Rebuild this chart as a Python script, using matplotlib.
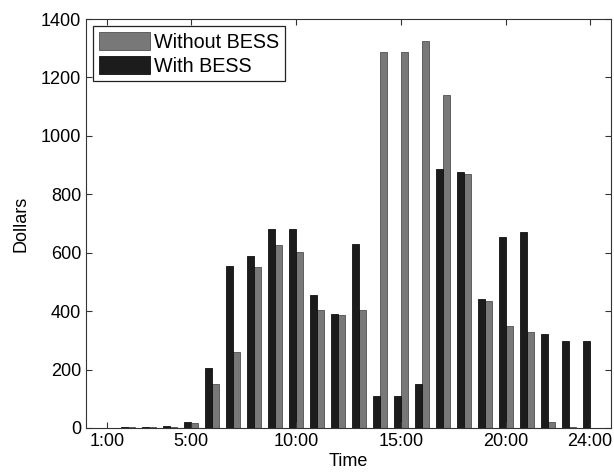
import matplotlib.pyplot as plt
import numpy as np

plt.rcParams['font.family'] = ['Liberation Sans', 'DejaVu Sans']

hours = np.arange(1, 25)
with_bess = [0, 3, 3, 6, 20, 205, 555, 590, 680, 680, 455, 390, 630, 110,
             110, 150, 888, 875, 440, 655, 670, 320, 298, 298]
without_bess = [0, 3, 3, 5, 18, 150, 260, 550, 625, 602, 405, 388, 405, 1288,
                1288, 1326, 1140, 870, 433, 348, 327, 22, 3, 0]
tick_hours = [1, 5, 10, 15, 20, 24]
tick_labels = ['1:00', '5:00', '10:00', '15:00', '20:00', '24:00']


def main():
    fig = plt.figure(figsize=(6.14, 4.75), dpi=100)
    ax = fig.add_axes([0.140, 0.099, 0.855, 0.861])

    w = 0.35
    ax.bar(hours + w / 2, without_bess, width=w, color='#787878',
           edgecolor='#505050', linewidth=0.6, label='Without BESS')
    ax.bar(hours - w / 2, with_bess, width=w, color='#1c1c1c',
           edgecolor='#101010', linewidth=0.6, label='With BESS')

    ax.set_xlim(0, 25)
    ax.set_ylim(0, 1400)
    ax.set_xticks(tick_hours)
    ax.set_xticklabels(tick_labels)
    ax.set_yticks(np.arange(0, 1401, 200))
    ax.tick_params(direction='in', top=True, right=True, labelsize=13,
                   length=4, color='#333333')
    for s in ax.spines.values():
        s.set_color('#333333')
    ax.set_xlabel('Time', fontsize=13, labelpad=2)
    ax.set_ylabel('Dollars', fontsize=13, labelpad=8)

    leg = ax.legend(loc='upper left', fontsize=14.2, fancybox=False,
                    edgecolor='#222222', framealpha=1, handlelength=2.6,
                    handleheight=1.05, handletextpad=0.2, borderpad=0.3,
                    labelspacing=0.2, borderaxespad=0.35)
    leg.get_frame().set_linewidth(0.9)

    fig.savefig('out.png', dpi=100)


if __name__ == '__main__':
    main()
